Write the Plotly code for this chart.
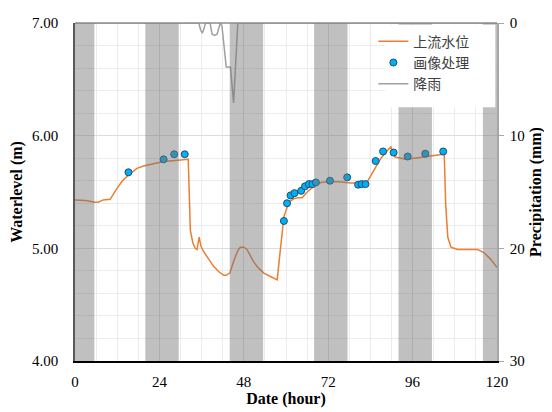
import plotly.graph_objects as go

# Water level (上流水位): hour, level (m)
wl_hour = [0, 3, 5.7, 6.6, 8, 10, 11.9, 13.5, 15.2, 17.6, 19.5, 22, 25.2, 28.5, 31.8, 32.2,
           32.8, 33.5, 34.2, 34.7, 35.3, 35.8, 36.6, 38, 39.4, 41, 42.3, 43, 44, 45.3, 46.3,
           47, 48, 48.9, 50, 50.8, 52, 53.7, 55.6, 57.5, 58.4, 59.4, 60.8, 62.2, 63.5, 64.6,
           66, 68.4, 70, 71.7, 75, 78.4, 81, 83.1, 84.2, 85.5, 87, 88.9, 89.8, 91, 92.5,
           94.1, 96.5, 98.8, 102.1, 104.7, 105.0, 105.4, 106, 106.9, 108.8, 111, 114.5,
           116.4, 118.3, 120]
wl_level = [5.43, 5.425, 5.41, 5.41, 5.43, 5.435, 5.53, 5.60, 5.65, 5.71, 5.73, 5.75, 5.77,
            5.78, 5.79, 5.79, 5.16, 5.05, 5.00, 4.99, 5.10, 5.02, 4.97, 4.90, 4.84, 4.79,
            4.76, 4.76, 4.78, 4.90, 4.98, 5.01, 5.01, 4.99, 4.92, 4.88, 4.83, 4.78, 4.75,
            4.72, 4.99, 5.28, 5.41, 5.44, 5.45, 5.45, 5.50, 5.56, 5.585, 5.59, 5.59, 5.58,
            5.58, 5.59, 5.65, 5.72, 5.80, 5.87, 5.90, 5.81, 5.80, 5.79, 5.80, 5.81, 5.83,
            5.835, 5.83, 5.40, 5.10, 5.01, 4.99, 4.99, 4.99, 4.96, 4.90, 4.83]

# Image-processing measurements (画像处理)
img_hour = [15.2, 25.2, 28.2, 31.2, 59.4, 60.3, 61.3, 62.4, 64.3, 65.4, 66.5, 67.5, 68.5,
            72.5, 77.4, 80.5, 81.5, 82.6, 85.5, 87.6, 90.6, 94.6, 99.6, 104.7]
img_level = [5.675, 5.79, 5.835, 5.835, 5.243, 5.40, 5.47, 5.49, 5.51, 5.55, 5.57, 5.57,
             5.585, 5.60, 5.63, 5.565, 5.57, 5.57, 5.775, 5.86, 5.85, 5.815, 5.84, 5.86]

# Rainfall (降雨), mm
rain_hour = [0, 35.2, 35.7, 36.2, 36.7, 37.1, 38.4, 39.0, 39.7, 40.4, 41.3, 41.8, 43.0,
             44.2, 45.1, 46.3, 120]
rain_mm = [0, 0, 0.6, 0.9, 0.5, 0, 0, 1.0, 1.1, 1.0, 0, 0.3, 3.9, 3.9, 7.1, 0, 0]

# Night periods (grey bands), hours
night_start = [-4, 20, 44, 68, 92, 116]
night_end = [5.5, 29.5, 53.5, 77.5, 101.5, 125.5]

SERIF = "Liberation Serif"
CJK = "Noto Sans CJK SC"

fig = go.Figure()
fig.add_trace(go.Scatter(x=wl_hour, y=wl_level, mode="lines", name="上流水位",
                         line=dict(color="#ED7D31", width=1.5)))
fig.add_trace(go.Scatter(x=img_hour, y=img_level, mode="markers", name="画像处理",
                         marker=dict(color="#00B0F0", size=7,
                                     line=dict(color="#1F4E79", width=1))))
fig.add_trace(go.Scatter(x=rain_hour, y=rain_mm, mode="lines", name="降雨", yaxis="y2",
                         line=dict(color="#A0A0A0", width=1.5)))

shapes = []
for s, e in zip(night_start, night_end):
    shapes.append(dict(type="rect", xref="x", yref="paper", x0=max(s, 0), x1=min(e, 120),
                       y0=0, y1=1, layer="above", line=dict(width=0),
                       fillcolor="rgba(115,115,115,0.45)"))
# white legend box
shapes.append(dict(type="rect", xref="paper", yref="paper", x0=0.735, x1=0.996,
                   y0=0.751, y1=0.995, layer="above", line=dict(width=0),
                   fillcolor="white"))
# top frame line
shapes.append(dict(type="line", xref="paper", yref="paper", x0=0, x1=1, y0=1, y1=1,
                   layer="above", line=dict(color="#8c8c8c", width=1.5)))

fig.update_layout(
    width=544, height=404,
    margin=dict(l=67, r=55, t=15, b=51, autoexpand=False),
    plot_bgcolor="white", paper_bgcolor="white",
    shapes=shapes,
    showlegend=True,
    legend=dict(x=0.707, y=0.992, xanchor="left", yanchor="top",
                bgcolor="rgba(0,0,0,0)", font=dict(family=CJK, size=14, color="#404040"),
                tracegroupgap=0, itemwidth=30),
    xaxis=dict(range=[0, 120], tick0=0, dtick=24, showgrid=True, gridcolor="#dcdcdc",
               gridwidth=1, automargin=False,
               minor=dict(dtick=6, tick0=0, showgrid=True, gridcolor="#ececec"),
               showline=True, linecolor="black", linewidth=1.5, ticks="",
               zeroline=False, ticklabelstandoff=6,
               tickfont=dict(family=SERIF, size=15, color="black"),
               title=dict(text="<b>Date (hour)</b>", font=dict(family=SERIF, size=16,
                                                               color="black"),
                          standoff=4)),
    yaxis=dict(range=[4, 7], dtick=1, tick0=4, tickformat=".2f", showgrid=True,
               gridcolor="#dcdcdc", automargin=False,
               minor=dict(dtick=0.2, tick0=4, showgrid=True, gridcolor="#ececec"),
               showline=True, linecolor="#595959", linewidth=1.5, ticks="",
               zeroline=False, ticklabelstandoff=12,
               tickfont=dict(family=SERIF, size=15, color="black"),
               title=dict(text="<b>Waterlevel (m)</b>", font=dict(family=SERIF, size=16,
                                                                  color="black"),
                          standoff=6)),
    yaxis2=dict(overlaying="y", side="right", range=[30, 0], dtick=10, tick0=0,
                showgrid=False, zeroline=False, showline=True, linecolor="#a6a6a6",
                linewidth=1.5, ticks="outside", ticklen=5, tickcolor="#a6a6a6",
                ticklabelstandoff=3, automargin=False,
                tickfont=dict(family=SERIF, size=15, color="black"),
                title=dict(text="<b>Precipitation (mm)</b>", font=dict(family=SERIF, size=16,
                                                                       color="black"),
                           standoff=6)),
)

fig.write_html("out.html")
